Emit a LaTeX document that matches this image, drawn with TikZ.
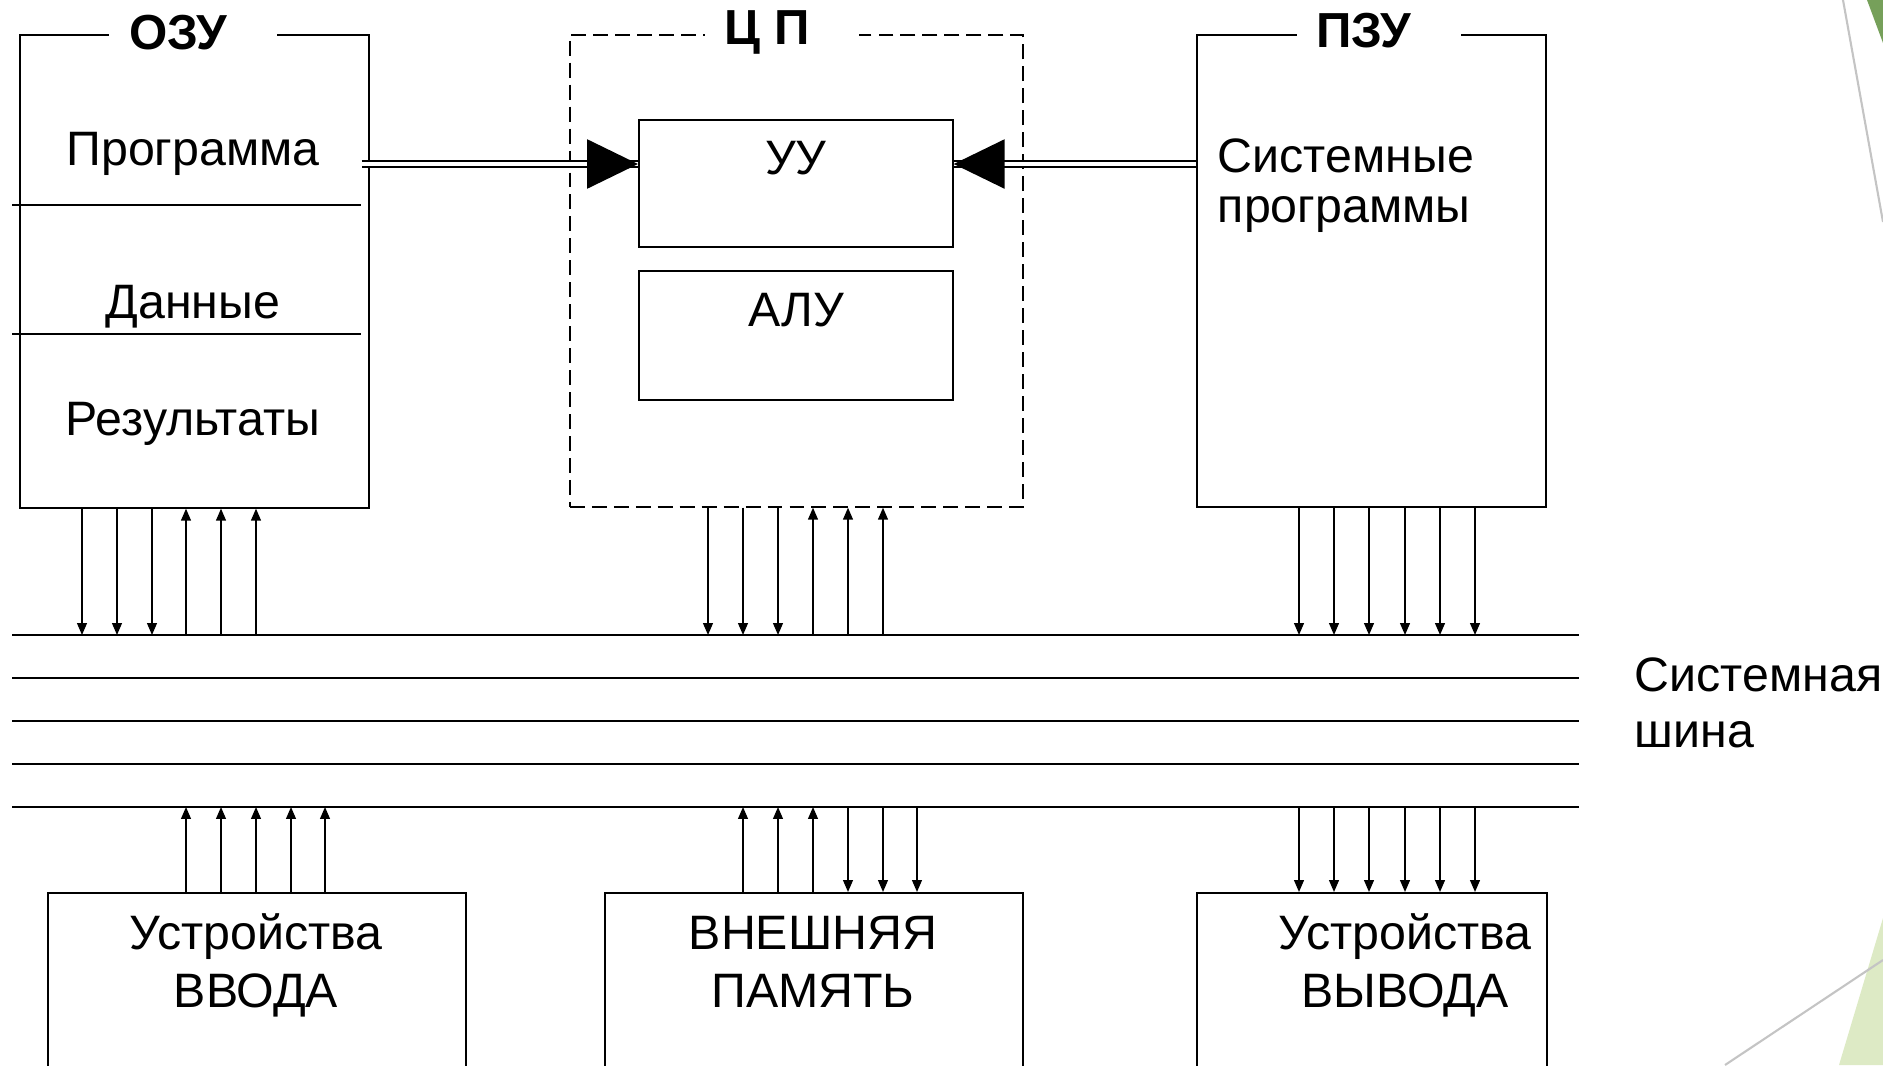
\documentclass[tikz,border=0pt]{standalone}
\usepackage{fontspec}
\setmainfont{Liberation Sans}
\usetikzlibrary{positioning,arrows.meta}
\definecolor{leafdark}{HTML}{76A05A}
\definecolor{leaflight}{HTML}{DDEAC5}
\definecolor{rulegrey}{HTML}{C4C4C4}

\begin{document}
\begin{tikzpicture}[x=0.02cm, y=-0.02cm, line width=1pt,
    unit/.style={draw, inner sep=0pt, anchor=north west},
    title/.style={fill=white, font=\fontsize{28}{33}\selectfont\bfseries, inner xsep=0.4cm, inner ysep=3pt, anchor=base},
    txt/.style={font=\fontsize{27.5}{33}\selectfont, anchor=base},
    sig/.style={-{Triangle[length=6.8pt,width=5.6pt]}, line width=0.9pt},
    feed/.style={double, double distance=2.2pt, line width=1pt},
    bigtip/.style={-{Triangle[length=29pt,width=28pt]}}]
    \useasboundingbox (0,0) rectangle (1883,1065);

    % slide decoration
    \fill[leafdark] (1867,0) -- (1883,0) -- (1883,43) -- cycle;
    \fill[leaflight] (1883,918) -- (1883,1065) -- (1839,1065) -- cycle;
    \draw[rulegrey, line width=1.2pt] (1843,0) -- (1883,222);
    \draw[rulegrey, line width=1.2pt] (1883,960) -- (1725,1065);

    % memory, processor, rom
    \node[unit, minimum width=6.98cm, minimum height=9.46cm] (ozu) at (19,34) {};
    \node[unit, dashed, dash pattern=on 8.5pt off 4pt, minimum width=9.06cm, minimum height=9.44cm] (cpu) at (569,34) {};
    \node[unit, minimum width=6.28cm, minimum height=2.54cm] (uu) at (638,119) {};
    \node[unit, minimum width=6.28cm, minimum height=2.58cm] (alu) at (638,270) {};
    \node[unit, minimum width=6.98cm, minimum height=9.44cm] (pzu) at (1196,34) {};

    \node[title] (ozut) at (193,49) {ОЗУ\hspace*{0.6cm}};
    \node[title] (cput) at (782,44) {Ц П\hspace*{0.6cm}};
    \node[title] (pzut) at (1379,47) {ПЗУ\hspace*{0.6cm}};

    \draw (12,205) -- (361,205);
    \draw (12,334) -- (361,334);
    \node[txt] (prog) at (193,165) {Программа};
    \node[txt] (data) at (193,318) {Данные};
    \node[txt] (res) at (193,435) {Результаты};
    \node[txt] (uut) at (796,174) {УУ};
    \node[txt] (alut) at (796,326) {АЛУ};
    \node[txt, anchor=base west, align=left, inner xsep=0pt, font=\fontsize{27.5}{28}\selectfont] (sysp) at (1217,222) {Системные\\программы};

    % program feed into the control unit
    \draw[feed, shorten <=-0.16cm] (ozu.east |- 0,164) -- (uu.west |- 0,164);
    \draw[bigtip] (600,164) -- (uu.west |- 0,164);
    \draw[feed] (pzu.west |- 0,164) -- (uu.east |- 0,164);
    \draw[bigtip] (990,164) -- (uu.east |- 0,164);

    % system bus
    \foreach \i/\y in {1/635, 2/678, 3/721, 4/764, 5/807}
        \draw (12,\y) coordinate (bus\i) -- (1579,\y) coordinate (busend\i);
    \node[txt, anchor=base west, align=left, inner xsep=0pt, font=\fontsize{27.5}{31.5}\selectfont] (bust) at (1634,747) {Системная\\шина};

    % devices
    \node[unit, minimum width=8.36cm, minimum height=5cm] (inp) at (47,892) {};
    \node[unit, minimum width=8.36cm, minimum height=5cm] (ext) at (604,892) {};
    \node[unit, minimum width=7cm, minimum height=5cm] (outp) at (1196,892) {};
    \node[txt, align=center] (inpt) at (256,1007) {Устройства\\ВВОДА};
    \node[txt, align=center] (extt) at (813,1007) {ВНЕШНЯЯ\\ПАМЯТЬ};
    \node[txt, align=center] (outpt) at (1405,1007) {Устройства\\ВЫВОДА};

    % links to the bus
    \foreach \x in {82,117,152} \draw[sig] (\x,0 |- ozu.south) -- (\x,0 |- bus1);
    \foreach \x in {186,221,256} \draw[sig] (\x,0 |- bus1) -- (\x,0 |- ozu.south);
    \foreach \x in {708,743,778} \draw[sig] (\x,0 |- cpu.south) -- (\x,0 |- bus1);
    \foreach \x in {813,848,883} \draw[sig] (\x,0 |- bus1) -- (\x,0 |- cpu.south);
    \foreach \x in {1299,1334,1369,1405,1440,1475} \draw[sig] (\x,0 |- pzu.south) -- (\x,0 |- bus1);
    \foreach \x in {186,221,256,291,325} \draw[sig] (\x,0 |- inp.north) -- (\x,0 |- bus5);
    \foreach \x in {743,778,813} \draw[sig] (\x,0 |- ext.north) -- (\x,0 |- bus5);
    \foreach \x in {848,883,917} \draw[sig] (\x,0 |- bus5) -- (\x,0 |- ext.north);
    \foreach \x in {1299,1334,1369,1405,1440,1475} \draw[sig] (\x,0 |- bus5) -- (\x,0 |- outp.north);
\end{tikzpicture}
\end{document}
